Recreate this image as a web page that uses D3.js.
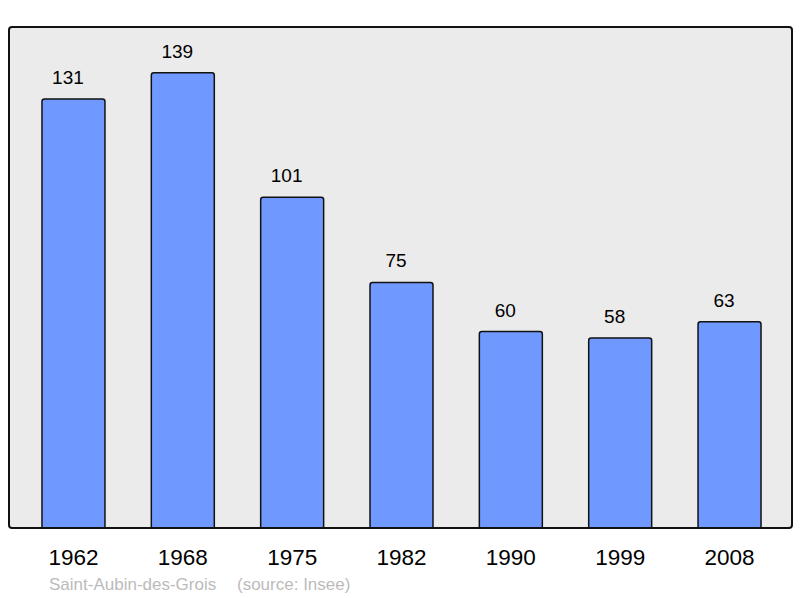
<!DOCTYPE html>
<html>
<head>
<meta charset="utf-8">
<script src="https://cdn.jsdelivr.net/npm/d3@7"></script>
<style>
  body { margin: 0; background: #fff; }
  svg { display: block; font-family: "Liberation Sans", Arial, sans-serif; }
</style>
</head>
<body>
<svg width="800" height="598"></svg>
<script>
var years = ['1962', '1968', '1975', '1982', '1990', '1999', '2008'];
var population = [131, 139, 101, 75, 60, 58, 63];
var commune = 'Saint-Aubin-des-Grois';
var source = '(source: Insee)';

var svg = d3.select('svg');

// plot frame
var frame = {left: 9, top: 27, right: 792, bottom: 528};

svg.append('rect')
  .attr('x', frame.left)
  .attr('y', frame.top)
  .attr('width', frame.right - frame.left)
  .attr('height', frame.bottom - frame.top)
  .attr('rx', 3)
  .attr('fill', '#ebebeb');

var x = d3.scaleBand()
  .domain(years)
  .range([18.8, 784.2])
  .paddingInner(0.424)
  .paddingOuter(0.212);

var y = d3.scaleLinear()
  .domain([0, 153])
  .range([frame.bottom, frame.top]);

var rows = years.map(function(d, i) { return {year: d, value: population[i]}; });

// bars: rounded top, flat bottom
function barPath(d) {
  var x0 = x(d.year), x1 = x0 + x.bandwidth();
  var y0 = y(d.value), y1 = y(0), r = 2.5;
  return 'M' + x0 + ',' + y1 +
    'V' + (y0 + r) +
    'Q' + x0 + ',' + y0 + ' ' + (x0 + r) + ',' + y0 +
    'H' + (x1 - r) +
    'Q' + x1 + ',' + y0 + ' ' + x1 + ',' + (y0 + r) +
    'V' + y1 + 'Z';
}

svg.append('g')
  .selectAll('path')
  .data(rows)
  .enter()
  .append('path')
  .attr('d', barPath)
  .attr('fill', '#7099ff')
  .attr('stroke', '#111')
  .attr('stroke-width', 1.5);

// value labels sit a bit left of the bar centre
svg.append('g')
  .selectAll('text')
  .data(rows)
  .enter()
  .append('text')
  .attr('x', function(d) { return x(d.year) + x.bandwidth() / 2 - 5.5; })
  .attr('y', function(d) { return y(d.value) - 15; })
  .attr('text-anchor', 'middle')
  .attr('font-size', 19)
  .attr('fill', '#000')
  .text(function(d) { return d.value; });

// frame outline on top
svg.append('rect')
  .attr('x', frame.left)
  .attr('y', frame.top)
  .attr('width', frame.right - frame.left)
  .attr('height', frame.bottom - frame.top)
  .attr('rx', 3)
  .attr('fill', 'none')
  .attr('stroke', '#111')
  .attr('stroke-width', 2);

// year labels
var xAxis = d3.axisBottom(x).tickSize(0).tickPadding(0);
var gx = svg.append('g')
  .attr('transform', 'translate(0,' + frame.bottom + ')')
  .call(xAxis);
gx.select('.domain').remove();
gx.selectAll('text')
  .attr('dy', null)
  .attr('y', 37)
  .attr('font-size', 22.5)
  .attr('font-family', '"Liberation Sans", Arial, sans-serif')
  .attr('fill', '#000');

svg.append('text')
  .attr('x', 49)
  .attr('y', 590)
  .attr('font-size', 17)
  .attr('fill', '#bbb')
  .text(commune);

svg.append('text')
  .attr('x', 237)
  .attr('y', 590)
  .attr('font-size', 17)
  .attr('fill', '#bbb')
  .text(source);
</script>
</body>
</html>
